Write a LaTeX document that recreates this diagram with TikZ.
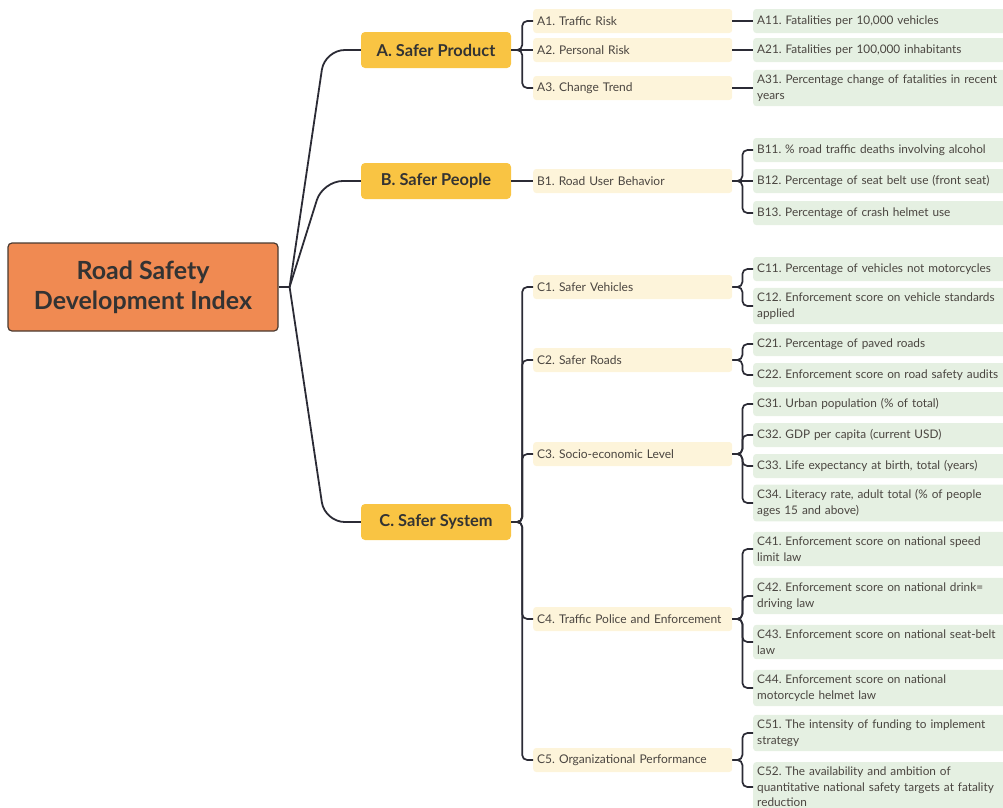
\documentclass[tikz,border=0pt]{standalone}
\usepackage{fontspec}
\setmainfont{Lato}
\frenchspacing
\definecolor{rootfill}{HTML}{F08A52}
\definecolor{rootdraw}{HTML}{4A3A30}
\definecolor{lonefill}{HTML}{F9C443}
\definecolor{ltwofill}{HTML}{FDF4DA}
\definecolor{leaffill}{HTML}{E5F0E2}
\definecolor{linec}{HTML}{2B2B35}
\definecolor{textc}{HTML}{333333}
\definecolor{smalltext}{HTML}{4A4540}
\tikzset{
  rootbox/.style={draw=rootdraw, line width=1.2pt, fill=rootfill, rounded corners=4pt,
    minimum width=270pt, minimum height=88pt, align=center, text=textc,
    font=\fontsize{25}{30}\selectfont\bfseries},
  lonebox/.style={fill=lonefill, rounded corners=4pt, minimum width=150pt, minimum height=36pt,
    text=textc, font=\fontsize{16.4}{18}\selectfont\bfseries},
  ltwobox/.style={fill=ltwofill, rounded corners=3pt, anchor=west, minimum height=24pt,
    text width=191pt, inner xsep=4pt, align=left, text=smalltext,
    font=\fontsize{12}{15.5}\selectfont},
  leafbox/.style={fill=leaffill, rounded corners=3pt, anchor=west, minimum height=24pt,
    text width=252pt, inner xsep=4pt, inner ysep=5pt, align=left, text=smalltext,
    font=\fontsize{11.8}{15.5}\selectfont},
  conn/.style={draw=linec, line width=1.7pt, rounded corners=5pt},
  mainconn/.style={draw=linec, line width=1.8pt, rounded corners=20pt},
}
\begin{document}
\begin{tikzpicture}[x=1pt,y=-1pt]
\useasboundingbox (0,0) rectangle (1003,807);
% root
\node[rootbox] (root) at (143,287) {Road Safety\\Development Index};
% level 1
\node[lonebox] (A) at (436,50) {A. Safer Product};
\node[lonebox] (B) at (436,181) {B. Safer People};
\node[lonebox] (C) at (436,522) {C. Safer System};
% level 2
\node[ltwobox] (A1) at (533,21) {A1. Traffic Risk};
\node[ltwobox] (A2) at (533,50) {A2. Personal Risk};
\node[ltwobox] (A3) at (533,88) {A3. Change Trend};
\node[ltwobox] (B1) at (533,181) {B1. Road User Behavior};
\node[ltwobox] (C1) at (533,287) {C1. Safer Vehicles};
\node[ltwobox] (C2) at (533,360) {C2. Safer Roads};
\node[ltwobox] (C3) at (533,454) {C3. Socio-economic Level};
\node[ltwobox] (C4) at (533,619) {C4. Traffic Police and Enforcement};
\node[ltwobox] (C5) at (533,760) {C5. Organizational Performance};
% leaves
\node[leafbox] (A11) at (753,21) {A11. Fatalities per 10,000 vehicles};
\node[leafbox] (A21) at (753,50) {A21. Fatalities per 100,000 inhabitants};
\node[leafbox] (A31) at (753,88) {A31. Percentage change of fatalities in recent\\years};
\node[leafbox] (B11) at (753,150) {B11. \% road traffic deaths involving alcohol};
\node[leafbox] (B12) at (753,181) {B12. Percentage of seat belt use (front seat)};
\node[leafbox] (B13) at (753,213) {B13. Percentage of crash helmet use};
\node[leafbox] (C11) at (753,269) {C11. Percentage of vehicles not motorcycles};
\node[leafbox] (C12) at (753,306) {C12. Enforcement score on vehicle standards\\applied};
\node[leafbox] (C21) at (753,344) {C21. Percentage of paved roads};
\node[leafbox] (C22) at (753,375) {C22. Enforcement score on road safety audits};
\node[leafbox] (C31) at (753,404) {C31. Urban population (\% of total)};
\node[leafbox] (C32) at (753,435) {C32. GDP per capita (current USD)};
\node[leafbox] (C33) at (753,466) {C33. Life expectancy at birth, total (years)};
\node[leafbox] (C34) at (753,503) {C34. Literacy rate, adult total (\% of people\\ages 15 and above)};
\node[leafbox] (C41) at (753,549) {C41. Enforcement score on national speed\\limit law};
\node[leafbox] (C42) at (753,596) {C42. Enforcement score on national drink=\\driving law};
\node[leafbox] (C43) at (753,642) {C43. Enforcement score on national seat-belt\\law};
\node[leafbox] (C44) at (753,688) {C44. Enforcement score on national\\motorcycle helmet law};
\node[leafbox] (C51) at (753,733) {C51. The intensity of funding to implement\\strategy};
\node[leafbox] (C52) at (753,787) {C52. The availability and ambition of\\quantitative national safety targets at fatality\\reduction};
% root connectors
\draw[draw=linec, line width=1.8pt] (root.east) -- ++(11,0) coordinate (rj);
\draw[mainconn] (rj) -- ([xshift=-36pt]A.west) -- (A.west);
\draw[mainconn] (rj) -- ([xshift=-38pt]B.west) -- (B.west);
\draw[mainconn] (rj) -- ([xshift=-36pt]C.west) -- (C.west);
% level1 -> level2 (straight where on the same row)
\foreach \p/\c in {A/A2,B/B1}{
  \draw[conn] (\p.east) -- (\c.west);
}
\foreach \p/\c in {A/A1,A/A3,C/C1,C/C2,C/C3,C/C4,C/C5}{
  \draw[conn] (\p.east) -- ++(11,0) |- (\c.west);
}
% level2 -> leaves
\foreach \p/\c in {A1/A11,A2/A21,A3/A31,B1/B12}{
  \draw[conn] (\p.east) -- (\c.west);
}
\foreach \p/\c in {B1/B11,B1/B13,C1/C11,C1/C12,C2/C21,C2/C22,
  C3/C31,C3/C32,C3/C33,C3/C34,C4/C41,C4/C42,C4/C43,C4/C44,C5/C51,C5/C52}{
  \draw[conn] (\p.east) -- ++(10,0) |- (\c.west);
}
\end{tikzpicture}
\end{document}
